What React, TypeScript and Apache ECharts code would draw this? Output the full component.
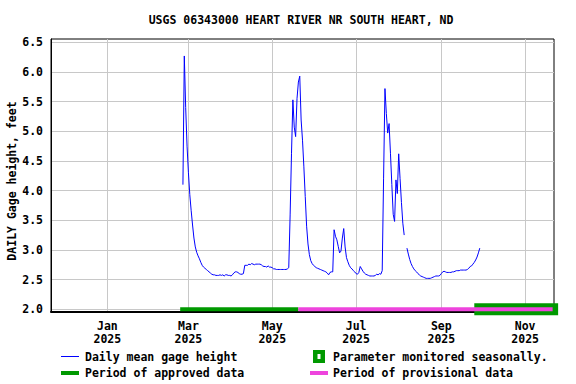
import React, { useEffect, useRef } from 'react';
import * as echarts from 'echarts';

const TITLE = 'USGS 06343000 HEART RIVER NR SOUTH HEART, ND';
const Y_AXIS_TITLE = 'DAILY Gage height, feet';

const yTicks = [2.0, 2.5, 3.0, 3.5, 4.0, 4.5, 5.0, 5.5, 6.0, 6.5];
const yAxisMin = 1.953;
const yAxisMax = 6.556;

const monthTickDates = ['2025-01-01', '2025-03-01', '2025-05-01', '2025-07-01', '2025-09-01', '2025-11-01'];
const monthTickLabels = ['Jan', 'Mar', 'May', 'Jul', 'Sep', 'Nov'];
const tickYear = '2025';
const axisStartDate = '2024-11-21';
const axisEndDate = '2025-11-22';

// Daily mean gage height (feet), one value per day starting at gageStartDate
const gageStartDate = '2025-02-25';
const gageHeight: (number | null)[] = [
  4.10, 6.27, 5.40, 4.75, 4.30, 3.93, 3.66, 3.42, 3.20, 3.05,
  2.96, 2.90, 2.85, 2.79, 2.74, 2.71, 2.69, 2.67, 2.65, 2.63,
  2.61, 2.59, 2.58, 2.58, 2.57, 2.57, 2.57, 2.58, 2.57, 2.58,
  2.56, 2.58, 2.58, 2.57, 2.57, 2.56, 2.58, 2.61, 2.63, 2.63,
  2.62, 2.60, 2.59, 2.59, 2.60, 2.74, 2.74, 2.74, 2.76, 2.75,
  2.77, 2.76, 2.75, 2.76, 2.76, 2.76, 2.76, 2.75, 2.73, 2.72,
  2.72, 2.71, 2.73, 2.71, 2.71, 2.70, 2.68, 2.68, 2.67, 2.67,
  2.67, 2.67, 2.67, 2.67, 2.67, 2.67, 2.68, 2.70, 3.59, 4.63,
  5.53, 5.07, 4.91, 5.55, 5.83, 5.93, 5.19, 4.85, 4.40, 3.90,
  3.40, 3.10, 2.92, 2.82, 2.77, 2.74, 2.72, 2.70, 2.69, 2.68,
  2.67, 2.66, 2.65, 2.64, 2.63, 2.61, 2.58, 2.62, 2.63, 2.63,
  3.34, 3.23, 3.17, 3.06, 2.95, 2.98, 3.20, 3.36, 3.05, 2.87,
  2.80, 2.74, 2.70, 2.68, 2.65, 2.63, 2.60, 2.59, 2.62, 2.72,
  2.68, 2.64, 2.61, 2.59, 2.58, 2.57, 2.56, 2.56, 2.56, 2.56,
  2.57, 2.59, 2.58, 2.60, 2.59, 2.65, 4.21, 5.72, 5.30, 4.97,
  5.13, 4.63, 4.10, 3.60, 3.48, 4.18, 3.95, 4.62, 4.20, 3.80,
  3.45, 3.25, null, 3.03, 2.93, 2.84, 2.77, 2.72, 2.68, 2.65,
  2.63, 2.60, 2.58, 2.56, 2.55, 2.54, 2.53, 2.52, 2.52, 2.52,
  2.52, 2.53, 2.54, 2.55, 2.56, 2.56, 2.56, 2.57, 2.60, 2.63,
  2.64, 2.63, 2.62, 2.62, 2.62, 2.62, 2.63, 2.63, 2.64, 2.65,
  2.65, 2.65, 2.66, 2.66, 2.66, 2.66, 2.66, 2.67, 2.69, 2.72,
  2.73, 2.76, 2.79, 2.83, 2.88, 2.95, 3.03,
];

const periodBarLevel = 2.0;
const approvedPeriod = ['2025-02-23', '2025-05-20'];
const provisionalPeriod = ['2025-05-20', '2025-11-21'];
const seasonalPeriod = ['2025-09-25', '2025-11-25'];

const BLUE = '#0000ff';
const GREEN = '#009900';
const PINK = '#ee44dd';
const GRID_GRAY = '#c8c8c8';
const FONT = 'DejaVu Sans Mono';

const EPOCH = Date.parse('2025-01-01');
const dayOf = (d: string) => Math.round((Date.parse(d) - EPOCH) / 86400000);

const tickDays = monthTickDates.map(dayOf);
const gageStart = dayOf(gageStartDate);
const gageData = gageHeight.map((v, i) => [gageStart + i, v === null ? '-' : v]);
const periodData = (p: string[]) => p.map((d) => [dayOf(d), periodBarLevel]);

const textStyle = { fontFamily: FONT, fontWeight: 'bold' as const, fontSize: 11.5, fill: '#000' };

const LEGEND_Y1 = 356.5;
const LEGEND_Y2 = 373;

function buildOption(): any {
  return {
    animation: false,
    backgroundColor: '#ffffff',
    grid: {
      left: 51,
      right: 22,
      top: 39,
      bottom: 72,
      show: true,
      borderColor: '#000',
      borderWidth: 1,
      backgroundColor: 'transparent',
    },
    xAxis: {
      type: 'value',
      min: dayOf(axisStartDate),
      max: dayOf(axisEndDate),
      axisLine: { show: true, onZero: false, lineStyle: { color: '#000', width: 2 } },
      axisTick: { show: false, customValues: tickDays },
      splitLine: { show: true, lineStyle: { color: GRID_GRAY, width: 1 } },
      axisLabel: {
        customValues: tickDays,
        margin: 7,
        fontFamily: FONT,
        fontWeight: 'bold',
        fontSize: 11.5,
        color: '#000',
        lineHeight: 13,
        formatter: (v: number) => {
          const i = tickDays.indexOf(Math.round(v));
          return i >= 0 ? `${monthTickLabels[i]}\n${tickYear}` : '';
        },
      },
    },
    yAxis: {
      type: 'value',
      min: yAxisMin,
      max: yAxisMax,
      axisLine: { show: true, onZero: false, lineStyle: { color: '#000', width: 1 } },
      axisTick: { show: false, customValues: yTicks },
      splitLine: { show: true, lineStyle: { color: GRID_GRAY, width: 1 } },
      axisLabel: {
        customValues: yTicks,
        margin: 8,
        fontFamily: FONT,
        fontWeight: 'bold',
        fontSize: 11.5,
        color: '#000',
        formatter: (v: number) => v.toFixed(1),
      },
    },
    series: [
      {
        name: 'Parameter monitored seasonally.',
        type: 'line',
        data: periodData(seasonalPeriod),
        symbol: 'none',
        clip: false,
        z: 2,
        lineStyle: { color: GREEN, width: 12, cap: 'butt' },
      },
      {
        name: 'Period of approved data',
        type: 'line',
        data: periodData(approvedPeriod),
        symbol: 'none',
        clip: false,
        z: 3,
        lineStyle: { color: GREEN, width: 4, cap: 'butt' },
      },
      {
        name: 'Period of provisional data',
        type: 'line',
        data: periodData(provisionalPeriod),
        symbol: 'none',
        clip: false,
        z: 3,
        lineStyle: { color: PINK, width: 4, cap: 'butt' },
      },
      {
        name: 'Daily mean gage height',
        type: 'line',
        data: gageData,
        symbol: 'none',
        connectNulls: false,
        z: 4,
        lineStyle: { color: BLUE, width: 1 },
      },
    ],
    graphic: [
      {
        type: 'text',
        x: 301,
        y: 20,
        style: { ...textStyle, text: TITLE, align: 'center', verticalAlign: 'middle' },
      },
      {
        type: 'text',
        x: 12,
        y: 181,
        rotation: Math.PI / 2,
        style: { ...textStyle, text: Y_AXIS_TITLE, align: 'center', verticalAlign: 'middle' },
      },
      // legend row 1
      { type: 'line', shape: { x1: 61, y1: LEGEND_Y1, x2: 79, y2: LEGEND_Y1 }, style: { stroke: BLUE, lineWidth: 1 } },
      { type: 'text', x: 85, y: LEGEND_Y1, style: { ...textStyle, text: 'Daily mean gage height', verticalAlign: 'middle' } },
      { type: 'rect', shape: { x: 313, y: LEGEND_Y1 - 6.5, width: 12, height: 13 }, style: { fill: GREEN } },
      { type: 'rect', shape: { x: 317.5, y: LEGEND_Y1 - 2.5, width: 3, height: 5 }, style: { fill: '#fff' } },
      { type: 'text', x: 333, y: LEGEND_Y1, style: { ...textStyle, text: 'Parameter monitored seasonally.', verticalAlign: 'middle' } },
      // legend row 2
      { type: 'line', shape: { x1: 61, y1: LEGEND_Y2, x2: 79, y2: LEGEND_Y2 }, style: { stroke: GREEN, lineWidth: 4 } },
      { type: 'text', x: 85, y: LEGEND_Y2, style: { ...textStyle, text: 'Period of approved data', verticalAlign: 'middle' } },
      { type: 'line', shape: { x1: 310, y1: LEGEND_Y2, x2: 328, y2: LEGEND_Y2 }, style: { stroke: PINK, lineWidth: 4 } },
      { type: 'text', x: 333, y: LEGEND_Y2, style: { ...textStyle, text: 'Period of provisional data', verticalAlign: 'middle' } },
    ],
  };
}

export default function App() {
  const ref = useRef<HTMLDivElement>(null);
  useEffect(() => {
    if (!ref.current) return;
    const chart = echarts.init(ref.current, null, { renderer: 'svg' });
    chart.setOption(buildOption());
    return () => chart.dispose();
  }, []);
  return (
    <div
      ref={ref}
      style={{ position: 'absolute', left: 0, top: 0, width: 576, height: 384, background: '#fff' }}
    />
  );
}
